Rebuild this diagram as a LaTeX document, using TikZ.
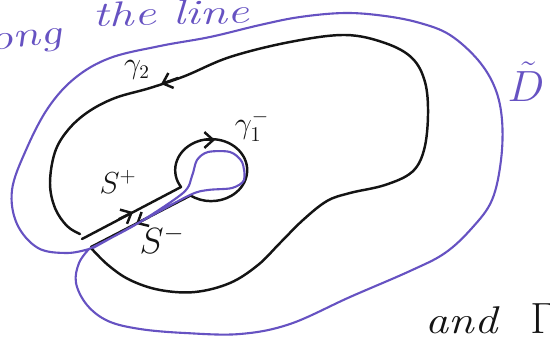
\documentclass[tikz,border=0pt]{standalone}
\usepackage{tikz}
\usetikzlibrary{arrows.meta}
\definecolor{penInk}{HTML}{141414}
\definecolor{penViolet}{HTML}{6652C2}

\begin{document}
\begin{tikzpicture}[x=0.02cm, y=-0.02cm,
    inkline/.style={penInk, line width=1.4pt, line cap=round, line join=round},
    violetline/.style={penViolet, line width=1.2pt, line cap=round, line join=round},
    barb/.style={inkline, -{Straight Barb[length=5pt, width=9pt]}},
    lbl/.style={penInk, inner sep=0pt},
    note/.style={lbl, penViolet, transform shape, xscale=1.4,
      font=\itshape\fontsize{20}{24}\selectfont}]
  \useasboundingbox (0,0) rectangle (550,341);

  % Outer contour gamma_2, open at the cut
  \draw[inkline] plot[smooth, tension=0.6] coordinates {
    (80,234) (67,226) (55,208) (50,183) (55,152) (68,130) (88,112)
    (115,98) (150,88) (185,76) (230,57) (290,42) (345,35) (385,43)
    (412,58) (425,82) (428,115) (424,150) (412,172) (385,185)
    (350,193) (327,201) (303,220) (280,243) (258,265) (230,283)
    (195,292) (160,290) (130,280) (108,265) (91,248)};

  % Cut S+ / S- and the small circle gamma_1^-
  \coordinate (cutTop) at (82,239);
  \coordinate (cutBot) at (91,247);
  \draw[inkline] (cutTop) -- (181,187)
    arc[start angle=213, end angle=-125, x radius=0.72cm, y radius=0.62cm]
    -- (cutBot);

  % Orientation marks
  \draw[barb] (178,78) -- (161,84);
  \draw[barb] (201,140) -- (215,140);
  \draw[barb] (119,219) -- (133,212);
  \draw[barb] (149,217) -- (136,224);

  % Deformed contour D~ (violet)
  \draw[violetline] plot[smooth, tension=0.6] coordinates {
    (89,249) (67,253) (38,248) (17,224) (12,190) (26,150) (48,108)
    (75,78) (110,58) (160,46) (210,37) (260,25) (300,17) (345,13)
    (385,16) (420,23) (450,35) (478,60) (495,88) (502,120) (501,160)
    (492,200) (472,228) (445,253) (410,271) (350,297) (290,324)
    (240,334) (185,333) (140,329) (108,321) (87,305) (76,283)
    (79,263) (89,249)};
  \draw[violetline] plot[smooth, tension=0.5] coordinates {
    (89,249) (135,225) (183,193) (192,176) (197,160) (208,152)
    (230,152) (242,162) (244,180) (232,188) (208,190) (190,195)
    (140,222) (93,248)};

  % Labels
  \node[note, rotate=8, anchor=base east] (alongTxt) at (64,43) {along};
  \node[note, rotate=2, anchor=base west] (lineTxt) at (93,27) {the line};
  \node[lbl, font=\fontsize{16}{18}\selectfont] (gammaTwo) at (137,70) {$\gamma_2$};
  \node[lbl, font=\fontsize{18}{20}\selectfont] (gammaOne) at (252,126) {$\gamma_1^-$};
  \node[lbl, font=\fontsize{18}{20}\selectfont] (sPlus) at (118,182) {$S^+$};
  \node[lbl, font=\fontsize{20}{22}\selectfont] (sMinus) at (162,240) {$S^-$};
  \node[lbl, penViolet, font=\fontsize{36}{38}\selectfont] (dTilde) at (526,82) {$\tilde{D}$};
  \node[lbl, font=\itshape\fontsize{22}{26}\selectfont, transform shape, xscale=1.2,
    anchor=base west] (andTxt) at (425,333) {and};
  \node[lbl, font=\fontsize{26}{28}\selectfont, anchor=base west] (bigGamma) at (530,333) {$\Gamma$};
\end{tikzpicture}
\end{document}
